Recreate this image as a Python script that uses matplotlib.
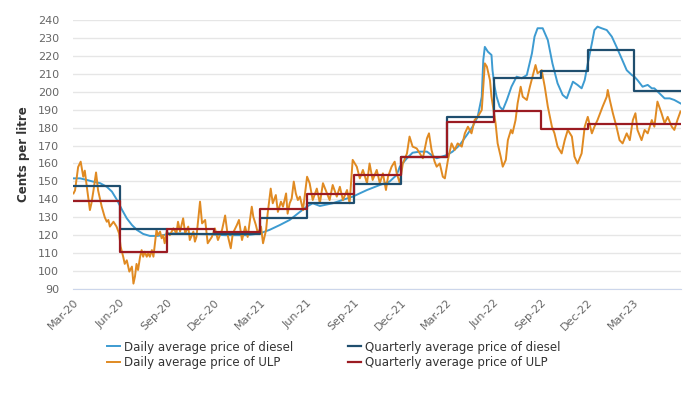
import pandas as pd
import numpy as np
import matplotlib.pyplot as plt
import matplotlib.dates as mdates

# Daily ULP price (days after 1 Mar 2020, cents per litre)
ulp_day = [1, 4, 10, 15, 20, 23, 27, 33, 36, 40, 45, 49, 56, 62, 66, 69, 72, 79, 85, 90,
           93, 98, 101, 105, 110, 115, 118, 121, 124, 127, 131, 134, 137, 140, 144, 147, 150, 154, 157, 160,
           163, 166, 170, 173, 176, 179, 183, 189, 196, 202, 205, 209, 215, 219, 225, 228, 235, 238, 241, 248,
           252, 258, 263, 271, 277, 283, 291, 297, 302, 308, 312, 320, 324, 330, 336, 341, 349, 352, 357, 361,
           367, 371, 377, 380, 386, 390, 396, 400, 406, 410, 416, 419, 423, 427, 431, 435, 439, 443, 449, 457,
           462, 468, 476, 482, 488, 496, 501, 507, 515, 521, 527, 535, 540, 546, 554, 560, 566, 574, 579, 585,
           593, 599, 605, 611, 615, 622, 628, 632, 638, 644, 652, 657, 663, 671, 677, 683, 691, 695, 700, 706,
           710, 716, 722, 726, 732, 739, 745, 751, 759, 765, 771, 778, 784, 790, 798, 801, 804, 808, 814, 817,
           821, 825, 829, 835, 839, 845, 849, 855, 858, 864, 868, 874, 878, 886, 892, 897, 903, 907, 915, 921,
           927, 935, 940, 946, 954, 960, 966, 974, 979, 985, 993, 999, 1005, 1013, 1018, 1024, 1034, 1042, 1044, 1048,
           1054, 1061, 1067, 1073, 1081, 1087, 1093, 1098, 1102, 1110, 1116, 1122, 1130, 1135, 1141, 1149, 1155, 1161, 1169, 1174,
           1180, 1186]
ulp_price = [143.3, 145, 158, 161, 152.6, 156, 147, 134, 137.8, 145, 155, 145, 136, 130, 127.5, 128.5, 124.8, 127.5, 124.8, 121,
             113.6, 108, 104, 106, 99.7, 102.5, 93, 97, 104, 100.6, 108, 111.7, 108, 110.8, 108, 110, 108, 111.7, 108, 115.5,
             122.9, 120, 122, 118.3, 120, 115.5, 122, 120, 123.8, 121, 127.5, 122, 129.4, 121, 124.8, 117.3, 122, 116.4, 119, 138.7,
             126.6, 128.5, 115.5, 119, 123.8, 117.3, 123, 131, 120, 112.7, 121, 125.7, 128.5, 117.3, 124.8, 119, 135.9, 130.3, 125.7, 121,
             124.8, 115.5, 123, 132, 146, 137.8, 142.4, 133, 138.7, 135.9, 143.3, 132, 137.8, 140.5, 149.9, 143.3, 139.6, 141.5, 134, 152.6,
             149, 139.6, 146, 137.8, 149, 143.3, 139.6, 148, 141.5, 147, 139.6, 145.2, 137.8, 162, 158.2, 151.7, 156.4, 149, 160, 150.8,
             156.4, 149, 154.5, 145.2, 152.6, 158.2, 161, 154.5, 149, 160, 165.6, 175, 169.4, 168.4, 165.6, 162.9, 174, 176.8, 167.5, 161,
             158.2, 160, 152.6, 151.7, 162, 171.2, 167.5, 171.2, 169.4, 176.8, 180.5, 176.8, 184.2, 186, 189.8, 202.8, 215.8, 214, 206.5, 197.2,
             189.8, 182.4, 171.2, 163.8, 158.2, 162, 173, 178.7, 176.8, 184.2, 193.5, 202.8, 197.2, 195.4, 202.8, 208.4, 214.9, 210.3, 212, 202.8,
             191.7, 180.5, 176.8, 169.4, 165.6, 173, 178.7, 175, 163.8, 160, 165.6, 180.5, 186, 176.8, 180.5, 184.2, 191.7, 197.2, 201, 195.4,
             188, 180.5, 173, 171.2, 176.8, 173, 184.2, 188, 178.7, 173, 178.7, 176.8, 184.2, 180.5, 194.5, 188, 182.4, 186, 180.5, 178.7,
             184.2, 189]

# Daily diesel price
diesel_day = [0, 14, 27, 39, 53, 66, 76, 86, 96, 105, 115, 125, 137, 150, 164, 176, 189, 215, 242, 267,
              297, 339, 365, 384, 404, 423, 443, 457, 468, 482, 507, 535, 546, 574, 599, 618, 632, 638, 652, 663,
              677, 691, 700, 710, 730, 741, 755, 769, 780, 790, 798, 801, 804, 810, 817, 819, 823, 827, 833, 839,
              847, 856, 866, 876, 886, 896, 901, 907, 917, 927, 936, 946, 956, 964, 970, 976, 985, 993, 999, 1005,
              1013, 1018, 1024, 1032, 1042, 1052, 1061, 1071, 1081, 1091, 1096, 1102, 1112, 1122, 1130, 1135, 1145, 1155, 1165, 1174,
              1186]
diesel_price = [151.7, 151.7, 150.8, 149.9, 149, 147, 144.3, 139.6, 134, 129.4, 125.7, 122.9, 120.7, 119.6, 119.6, 120, 121, 121, 120.7, 120.5,
                120, 120, 121, 123, 125.7, 128.5, 133, 136, 137.8, 136.3, 137.8, 140.5, 141.5, 145.2, 148, 149.9, 153.6, 158.2, 162.9, 166,
                166.6, 166.6, 164.7, 162.9, 164.7, 166.6, 170.3, 175.9, 180.5, 186, 197.2, 217.7, 225, 222.3, 220.5, 212, 203, 197.2, 191.7, 189.8,
                195.4, 202.8, 208.4, 207.5, 209.3, 221.4, 230.7, 235.4, 235.4, 228.8, 215.8, 204.7, 198.2, 196.3, 201, 205.6, 203.8, 201.9, 206.5, 215.8,
                227, 234.4, 236.3, 235.4, 234.4, 230.7, 225.1, 218.6, 212, 209.3, 208.4, 206.5, 202.8, 203.8, 201.9, 201.9, 199.1, 196.3, 196.3, 195.4,
                193.5]

# Quarterly averages (one value per quarter, Mar-20 .. Mar-23)
diesel_quarterly = [147.6, 123.3, 120.7, 120.7, 129.7, 137.8, 148.4, 163.4, 186.1, 207.5, 211.8, 223.3, 200.4]
ulp_quarterly = [139.2, 110.5, 123.3, 121.6, 134.7, 143.0, 153.6, 163.6, 183.0, 189.3, 179.2, 182.0, 182.0]

start = pd.Timestamp("2020-03-01")
ulp_dates = start + pd.to_timedelta(ulp_day, unit="D")
diesel_dates = start + pd.to_timedelta(diesel_day, unit="D")
quarters = pd.date_range("2020-03-01", "2023-06-01", freq="3MS")

fig = plt.figure(figsize=(7, 3.98), dpi=100)
ax = fig.add_axes([73 / 700, 1 - 289 / 398, 608 / 700, 269 / 398])

ax.plot(diesel_dates, diesel_price, color="#3d9bd1", lw=1.4, label="Daily average price of diesel", zorder=3)
ax.plot(ulp_dates, ulp_price, color="#e08a22", lw=1.4, label="Daily average price of ULP", zorder=3)
ax.step(quarters, diesel_quarterly + [diesel_quarterly[-1]], where="post", color="#1f4e6e", lw=1.6,
        label="Quarterly average price of diesel", zorder=4)
ax.step(quarters, ulp_quarterly + [ulp_quarterly[-1]], where="post", color="#9b1b22", lw=1.6,
        label="Quarterly average price of ULP", zorder=5)

ax.set_xlim(quarters[0], quarters[-1])
ax.set_ylim(90, 240)
ax.set_yticks(range(90, 241, 10))
ax.set_xticks(quarters[:-1])
ax.xaxis.set_major_formatter(mdates.DateFormatter("%b-%y"))
plt.setp(ax.get_xticklabels(), rotation=45, ha="right", rotation_mode="anchor")

ax.grid(axis="y", color="#e6e6e6", lw=1)
ax.set_axisbelow(True)
for s in ["top", "right", "left"]:
    ax.spines[s].set_visible(False)
ax.spines["bottom"].set_color("#ccd6eb")
ax.tick_params(axis="both", length=0, colors="#666666", labelsize=8)
ax.tick_params(axis="y", pad=10)
ax.tick_params(axis="x", pad=6)

ax.set_ylabel("Cents per litre", fontsize=8.5, fontweight="bold", color="#333333", labelpad=6)

fig.legend(loc="center", bbox_to_anchor=(334 / 700, 1 - 355 / 398), ncol=2, frameon=False,
           fontsize=8.5, handlelength=1.1, handletextpad=0.35, columnspacing=4.6, labelspacing=0.25,
           labelcolor="#333333")

fig.savefig("out.png", dpi=100)
